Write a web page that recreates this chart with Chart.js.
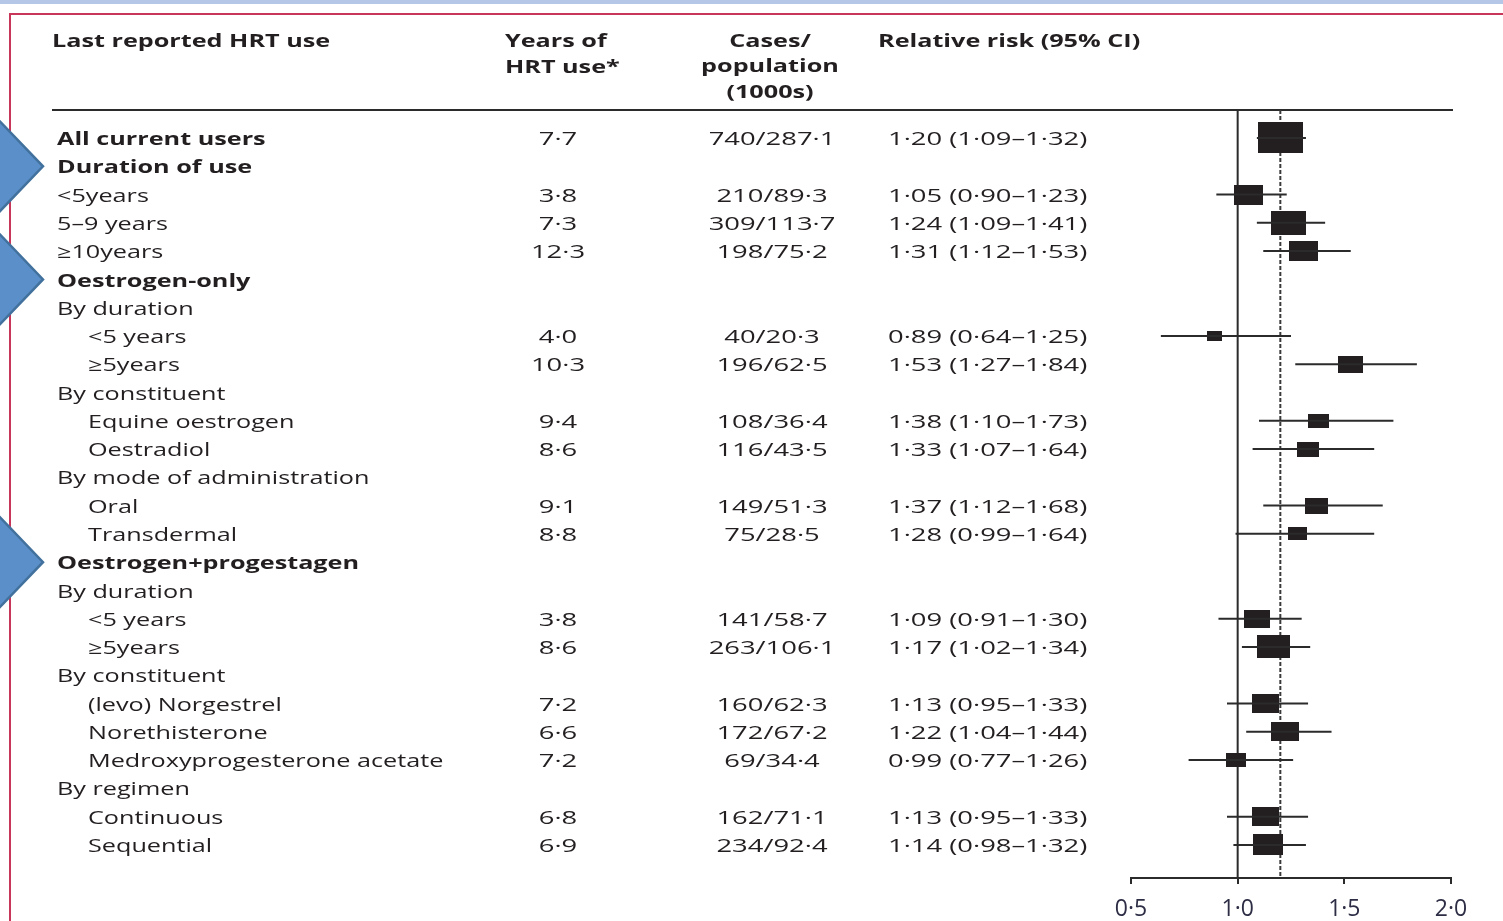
<!DOCTYPE html>
<html>
<head>
<meta charset="utf-8">
<title>HRT use and relative risk</title>
<script src="https://cdn.jsdelivr.net/npm/chart.js@4/dist/chart.umd.min.js"></script>
<style>
  html, body { margin: 0; padding: 0; background: #fff; }
  canvas { display: block; }
</style>
</head>
<body>
<canvas id="forest" width="1503" height="921"></canvas>
<script>
// rows of the table, top to bottom
const rowLabels = [
  'All current users', 'Duration of use', '<5years', '5–9 years', '≥10years',
  'Oestrogen-only', 'By duration', '<5 years', '≥5years',
  'By constituent', 'Equine oestrogen', 'Oestradiol',
  'By mode of administration', 'Oral', 'Transdermal',
  'Oestrogen+progestagen', 'By duration', '<5 years', '≥5years',
  'By constituent', '(levo) Norgestrel', 'Norethisterone', 'Medroxyprogesterone acetate',
  'By regimen', 'Continuous', 'Sequential'
];
// head = bold group title, sub = plain row at the margin, item = indented row
const rowKind = [
  'head', 'head', 'sub', 'sub', 'sub',
  'head', 'sub', 'item', 'item',
  'sub', 'item', 'item',
  'sub', 'item', 'item',
  'head', 'sub', 'item', 'item',
  'sub', 'item', 'item', 'item',
  'sub', 'item', 'item'
];
const yearsOfUse = [7.7, null, 3.8, 7.3, 12.3, null, null, 4.0, 10.3, null, 9.4, 8.6, null, 9.1, 8.8,
  null, null, 3.8, 8.6, null, 7.2, 6.6, 7.2, null, 6.8, 6.9];
const cases = [740, null, 210, 309, 198, null, null, 40, 196, null, 108, 116, null, 149, 75,
  null, null, 141, 263, null, 160, 172, 69, null, 162, 234];
const population = [287.1, null, 89.3, 113.7, 75.2, null, null, 20.3, 62.5, null, 36.4, 43.5, null, 51.3, 28.5,
  null, null, 58.7, 106.1, null, 62.3, 67.2, 34.4, null, 71.1, 92.4];
const relRisk = [1.20, null, 1.05, 1.24, 1.31, null, null, 0.89, 1.53, null, 1.38, 1.33, null, 1.37, 1.28,
  null, null, 1.09, 1.17, null, 1.13, 1.22, 0.99, null, 1.13, 1.14];
const ciLow = [1.09, null, 0.90, 1.09, 1.12, null, null, 0.64, 1.27, null, 1.10, 1.07, null, 1.12, 0.99,
  null, null, 0.91, 1.02, null, 0.95, 1.04, 0.77, null, 0.95, 0.98];
const ciHigh = [1.32, null, 1.23, 1.41, 1.53, null, null, 1.25, 1.84, null, 1.73, 1.64, null, 1.68, 1.64,
  null, null, 1.30, 1.34, null, 1.33, 1.44, 1.26, null, 1.33, 1.32];
const xTicks = [0.5, 1.0, 1.5, 2.0];

const INK = '#231f20';
const FONT = '"Open Sans", sans-serif';
const STRETCH = 1.4;     // words
const NUM_STRETCH = 1.52; // figures run a bit wider in the original

const dot = v => v.toFixed(1).replace('.', '·');
const dot2 = v => v.toFixed(2).replace('.', '·');

// whisker segments, broken with nulls between rows
const whiskers = [];
const boxes = [];
const boxImgs = [];
rowLabels.forEach((_, i) => {
  if (relRisk[i] == null) return;
  whiskers.push({x: ciLow[i], y: i}, {x: ciHigh[i], y: i}, {x: null, y: null});
  boxes.push({x: relRisk[i], y: i});
  // box grows with precision of the estimate
  const prec = 1 / Math.log(ciHigh[i] / ciLow[i]);
  const w = Math.round(10.5 * Math.pow(prec, 0.88));
  const h = Math.round(w * 0.69);
  const c = document.createElement('canvas');
  c.width = w; c.height = h;
  const g = c.getContext('2d');
  g.fillStyle = INK;
  g.fillRect(0, 0, w, h);
  boxImgs.push(c);
});

function text(ctx, s, x, y, align, bold, sx) {
  ctx.save();
  ctx.font = (bold ? 'bold ' : '') + '18px ' + FONT;
  ctx.fillStyle = INK;
  ctx.textBaseline = 'middle';
  ctx.textAlign = align;
  ctx.translate(x, y + 2);
  ctx.scale(sx || STRETCH, 1);
  ctx.fillText(s, 0, 0);
  ctx.restore();
}

function arrow(ctx, cy) {
  ctx.save();
  ctx.lineWidth = 2.5;
  ctx.strokeStyle = '#41719c';
  ctx.fillStyle = '#4a7db4';
  ctx.fillRect(-10, cy - 27, 18, 54);
  ctx.strokeRect(-10, cy - 27, 18, 54);
  ctx.fillStyle = '#5b8fc9';
  ctx.beginPath();
  ctx.moveTo(-4, cy - 49);
  ctx.lineTo(43, cy);
  ctx.lineTo(-4, cy + 49);
  ctx.closePath();
  ctx.fill();
  ctx.stroke();
  ctx.restore();
}

const tablePlugin = {
  id: 'table',
  beforeDraw(chart) {
    const ctx = chart.ctx;
    ctx.save();
    ctx.fillStyle = '#fff';
    ctx.fillRect(0, 0, chart.width, chart.height);
    ctx.fillStyle = '#b4c7e7';
    ctx.fillRect(0, 0, chart.width, 4);
    ctx.strokeStyle = '#c8375a';
    ctx.lineWidth = 2;
    ctx.beginPath();
    ctx.moveTo(chart.width, 14);
    ctx.lineTo(10, 14);
    ctx.lineTo(10, chart.height);
    ctx.stroke();
    ctx.restore();
  },
  beforeDatasetsDraw(chart) {
    const {ctx, chartArea: a, scales: {x}} = chart;
    ctx.save();
    ctx.strokeStyle = '#2b2b2b';
    ctx.lineWidth = 2;
    ctx.beginPath();
    ctx.moveTo(52, a.top);
    ctx.lineTo(a.right + 2, a.top);
    const x1 = x.getPixelForValue(1);
    ctx.moveTo(x1, a.top);
    ctx.lineTo(x1, a.bottom);
    ctx.stroke();
    ctx.setLineDash([4, 2]);
    ctx.strokeStyle = '#3a3a3a';
    const xr = x.getPixelForValue(relRisk[0]);
    ctx.beginPath();
    ctx.moveTo(xr, a.top);
    ctx.lineTo(xr, a.bottom);
    ctx.stroke();
    ctx.restore();
  },
  afterDraw(chart) {
    const {ctx, scales: {y}} = chart;
    text(ctx, 'Last reported HRT use', 52, 40, 'left', true);
    text(ctx, 'Years of', 505, 40, 'left', true);
    text(ctx, 'HRT use*', 505, 66, 'left', true);
    text(ctx, 'Cases/', 770, 40, 'center', true);
    text(ctx, 'population', 770, 65, 'center', true);
    text(ctx, '(1000s)', 770, 91, 'center', true);
    text(ctx, 'Relative risk (95% CI)', 878, 40, 'left', true);
    rowLabels.forEach((lab, i) => {
      const py = y.getPixelForValue(i);
      const kind = rowKind[i];
      text(ctx, lab, kind === 'item' ? 88 : 57, py, 'left', kind === 'head');
      if (yearsOfUse[i] != null) text(ctx, dot(yearsOfUse[i]), 558, py, 'center', false, NUM_STRETCH);
      if (cases[i] != null) text(ctx, cases[i] + '/' + dot(population[i]), 772, py, 'center', false, NUM_STRETCH);
      if (relRisk[i] != null) {
        text(ctx, dot2(relRisk[i]) + ' (' + dot2(ciLow[i]) + '–' + dot2(ciHigh[i]) + ')', 888, py, 'left', false, NUM_STRETCH);
      }
    });
    [1, 5, 15].forEach(i => arrow(ctx, y.getPixelForValue(i)));
  }
};

new Chart(document.getElementById('forest'), {
  type: 'scatter',
  data: {
    datasets: [
      {
        label: '95% CI',
        data: whiskers,
        showLine: true,
        spanGaps: false,
        borderColor: '#2b2b2b',
        borderWidth: 2,
        pointRadius: 0
      },
      {
        label: 'Relative risk',
        data: boxes,
        pointStyle: ctx => boxImgs[ctx.dataIndex],
        pointRadius: 10
      }
    ]
  },
  plugins: [tablePlugin],
  options: {
    responsive: false,
    animation: false,
    devicePixelRatio: 1,
    layout: { padding: { left: 1131, right: 52, top: 110, bottom: 0 } },
    plugins: {
      legend: { display: false },
      tooltip: { enabled: false }
    },
    scales: {
      x: {
        type: 'linear',
        min: 0.5,
        max: 2.0,
        afterBuildTicks: s => { s.ticks = xTicks.map(v => ({value: v})); },
        afterFit: s => { s.height = 43; },
        ticks: {
          callback: v => dot(v),
          color: '#2d2d45',
          padding: 12,
          font: { family: FONT, size: 23 }
        },
        grid: {
          drawOnChartArea: false,
          tickLength: 6,
          color: '#2b2b2b',
          lineWidth: 2
        },
        border: { color: '#2b2b2b', width: 2 }
      },
      y: {
        type: 'linear',
        display: false,
        reverse: true,
        min: -0.99,
        max: 26.17
      }
    }
  }
});
</script>
</body>
</html>
